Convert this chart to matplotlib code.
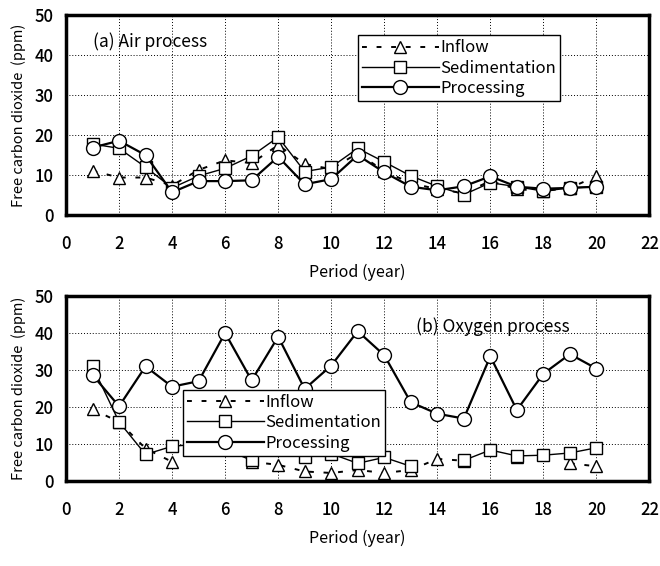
import numpy as np
import matplotlib.pyplot as plt

plt.rcParams['font.family'] = ['Noto Sans CJK JP', 'DejaVu Sans']

period = np.arange(1, 21)
nan = np.nan

# (a) Air process
air_inflow = [11.1, 9.4, 9.4, 7.4, 11.3, 13.7, 13.0, 17.5, 12.8, 11.5,
              15.5, 11.0, 8.0, 6.5, 5.5, 8.5, 6.5, 6.0, 6.8, 9.7]
air_sed = [17.8, 16.7, 12.0, 6.8, 9.8, 11.7, 14.8, 19.5, 10.9, 12.0,
           16.7, 13.3, 9.8, 7.2, 5.1, 8.1, 7.1, 6.0, 6.8, 7.1]
air_proc = [16.9, 18.6, 15.0, 5.7, 8.5, 8.5, 8.7, 14.6, 7.7, 9.0,
            15.0, 10.7, 7.1, 6.2, 7.2, 9.7, 7.1, 6.6, 6.8, 7.1]

# (b) Oxygen process
oxy_inflow = [19.4, 16.0, 8.8, 5.2, nan, nan, 5.2, 4.4, 2.6, 2.2,
              3.0, 2.2, 3.0, 6.0, 5.5, nan, 6.5, nan, 4.8, 4.0]
oxy_sed = [31.0, 16.0, 7.2, 9.4, 10.0, 8.6, 5.6, 10.4, 6.6, 7.4,
           4.8, 6.4, 4.0, nan, 5.6, 8.4, 6.8, 7.0, 7.6, 9.0]
oxy_proc = [28.7, 20.2, 31.0, 25.5, 27.0, 40.0, 27.2, 39.0, 24.9, 31.2,
            40.5, 34.0, 21.3, 18.2, 16.9, 33.7, 19.2, 29.0, 34.3, 30.4]

fig = plt.figure(figsize=(6.6, 5.66), dpi=100)
ax1 = fig.add_axes([0.1, 0.62, 0.884, 0.353])
ax2 = fig.add_axes([0.1, 0.15, 0.884, 0.327])


def draw(ax, inflow, sed, proc, title, tpos, legpos):
    ax.plot(period, inflow, color='black', lw=1.4, dashes=(2.5, 5),
            marker='^', ms=8.5, mfc='white', mec='black', mew=1.0,
            label='Inflow', zorder=3)
    ax.plot(period, sed, color='black', lw=1.0,
            marker='s', ms=9, mfc='white', mec='black', mew=1.0,
            label='Sedimentation', zorder=4)
    ax.plot(period, proc, color='black', lw=1.6,
            marker='o', ms=10, mfc='white', mec='black', mew=1.0,
            label='Processing', zorder=5)
    ax.set_xlim(0, 22)
    ax.set_ylim(0, 50)
    ax.set_xticks(np.arange(0, 23, 2))
    ax.set_yticks(np.arange(0, 51, 10))
    ax.grid(True, color='black', ls=(0, (1, 2)), lw=0.7)
    ax.tick_params(axis='x', length=0, labelsize=12, pad=14)
    ax.tick_params(axis='y', length=0, labelsize=12, pad=9)
    for lab in ax.get_xticklabels() + ax.get_yticklabels():
        lab.set_fontweight('medium')
    for s in ax.spines.values():
        s.set_linewidth(2.5)
    ax.set_xlabel('Period (year)', fontsize=11.5, labelpad=8)
    ax.set_ylabel('Free carbon dioxide  (ppm)', fontsize=10.5, labelpad=6)
    ax.text(tpos[0], tpos[1], title, fontsize=12.5, va='center')
    leg = ax.legend(loc='upper left', bbox_to_anchor=legpos, fontsize=12,
                    handlelength=4.6, handletextpad=0.1, borderpad=0.25,
                    labelspacing=0.2, borderaxespad=0, fancybox=False,
                    framealpha=1, edgecolor='black')
    leg.get_frame().set_linewidth(1.0)
    leg.set_zorder(10)


draw(ax1, air_inflow, air_sed, air_proc, '(a) Air process', (1.0, 43.5), (0.5, 0.9))
draw(ax2, oxy_inflow, oxy_sed, oxy_proc, '(b) Oxygen process', (13.2, 41.8), (0.2, 0.494))

plt.savefig('out.png', dpi=100)
